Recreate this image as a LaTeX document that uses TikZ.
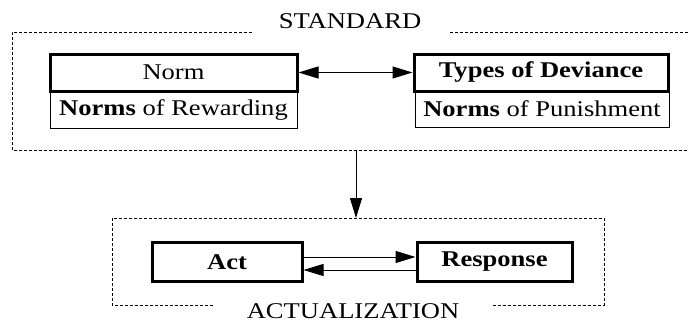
\documentclass[tikz,border=0pt]{standalone}
\usepackage{fontspec}
\setmainfont[FakeStretch=1.18]{Liberation Serif}
\usetikzlibrary{arrows.meta}

\begin{document}
\begin{tikzpicture}[x=1pt,y=-1pt,
    font=\fontsize{22.5}{26}\selectfont,
    thickbox/.style={draw,line width=3pt,inner sep=0pt},
    thinbox/.style={draw,line width=0.9pt,inner sep=0pt},
    frame/.style={dashed,dash pattern=on 3pt off 2pt,line width=0.9pt},
    arr/.style={line width=1pt,-{Triangle[length=20pt,width=12pt]}}]
    \useasboundingbox (0,0) rectangle (688,324);
    % standard
    \draw[frame] (252,32) -- (12,32) -- (12,150) -- (700,150);
    \draw[frame] (450,32) -- (700,32);
    \node (std) at (350,21) {STANDARD};
    \node[thickbox,minimum width=247pt,minimum height=37pt] (norm) at (173.5,72.5) {Norm};
    \node[thinbox,minimum width=247pt,minimum height=37pt] (rew) at (173.5,110) {\textbf{Norms} of Rewarding};
    \node[thickbox,minimum width=254pt,minimum height=37pt] (types) at (541,72.5) {\textbf{Types of Deviance}};
    \node[thinbox,minimum width=254pt,minimum height=36pt] (pun) at (542,109) {\textbf{Norms} of Punishment};
    \draw[arr,{Triangle[length=20pt,width=12pt]}-{Triangle[length=20pt,width=12pt]}] (norm) -- (types);
    % actualization
    \draw[frame] (213,305) -- (112,305) -- (112,218) -- (604,218) -- (604,305) -- (493,305);
    \node (actu) at (353,311) {ACTUALIZATION};
    \node[thickbox,minimum width=150pt,minimum height=39pt] (act) at (227,262) {\textbf{Act}};
    \node[thickbox,minimum width=155pt,minimum height=39pt] (resp) at (494.5,262) {\textbf{Response}};
    \draw[arr] ([yshift=5pt]act.east) -- ([yshift=5pt]resp.west);
    \draw[arr] ([yshift=-8pt]resp.west) -- ([yshift=-8pt]act.east);
    \coordinate (stdbot) at (356,150);
    \coordinate (acttop) at (356,218);
    \draw[arr] (stdbot) -- (acttop);
\end{tikzpicture}
\end{document}
